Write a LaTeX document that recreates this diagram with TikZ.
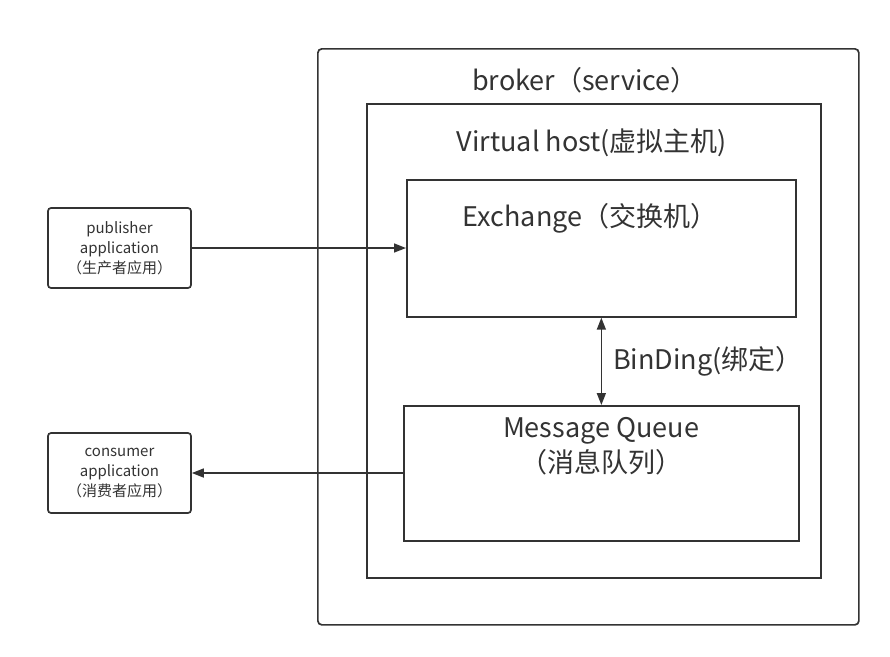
\documentclass[tikz,border=0pt]{standalone}
\usepackage{fontspec}
\setmainfont{Noto Sans CJK SC}
\usetikzlibrary{positioning,arrows.meta}
\definecolor{linegray}{HTML}{333333}

\begin{document}
\begin{tikzpicture}[x=1pt, y=-1pt,
    box style/.style={draw=linegray, line width=1.7pt, inner sep=0pt, anchor=north west},
    app style/.style={box style, rounded corners=3pt, anchor=center, minimum width=143pt,
        minimum height=80pt, align=center, text=linegray, font=\fontsize{15}{20}\selectfont},
    big text/.style={text=linegray, inner sep=0pt, align=center, font=\fontsize{27}{35}\selectfont},
    link style/.style={draw=linegray, line width=1.6pt, -{Triangle[length=12pt, width=9pt]}},]
    \useasboundingbox (0,0) rectangle (890,656);

    % containers
    \node[box style, rounded corners=4pt, minimum width=541pt, minimum height=576pt] (broker) at (317,48) {};
    \node[box style, minimum width=454pt, minimum height=474pt] (vhost) at (366,103) {};
    \node[box style, minimum width=389pt, minimum height=137pt] (exch) at (406,179) {};
    \node[box style, minimum width=395pt, minimum height=135pt] (queue) at (403,405) {};

    \node[big text] (brokerlabel) at (585,80) {broker（service）};
    \node[big text] (vhostlabel) at (592,143) {Virtual host(虚拟主机)};
    \node[big text] (exchlabel) at (590,218) {Exchange（交换机）};
    \node[big text] (queuelabel) at (601,446) {Message Queue\\（消息队列）};

    % applications
    \node[app style] (pub) at (119.5,248) {publisher\\application\\（生产者应用）};
    \node[app style] (cons) at (119.5,473) {consumer\\application\\（消费者应用）};

    \draw[link style] (pub.east) -- (pub.east -| exch.west);
    \draw[link style] (cons.east -| queue.west) -- (cons.east);
    \draw[link style, {Triangle[length=12pt, width=9pt]}-{Triangle[length=12pt, width=9pt]}]
        (exch.south) -- (queue.north) node[midway, right=11pt, big text] (bindlabel) {BinDing(绑定）};

\end{tikzpicture}
\end{document}
